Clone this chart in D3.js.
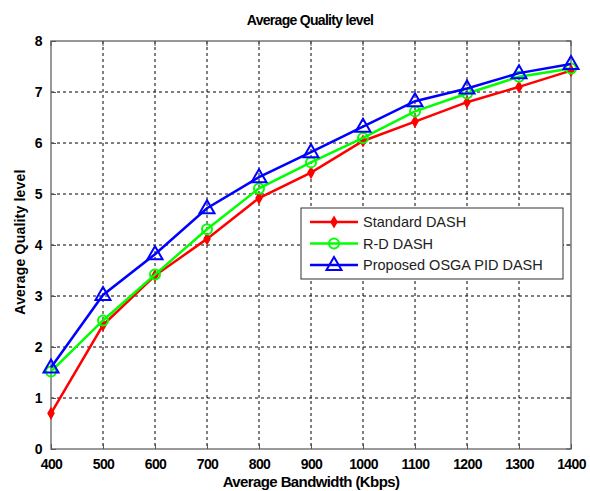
<!DOCTYPE html>
<html>
<head>
    <meta charset="UTF-8">
    <title>Average Quality level</title>
    <script src="https://d3js.org/d3.v7.min.js"></script>
    <style>
        body { margin: 0; background: #fff; }
        svg text { font-family: "Liberation Sans", Arial, sans-serif; }
    </style>
</head>
<body>
    <div id="chart"></div>
    <script>
        // data
        var bandwidth = [400, 500, 600, 700, 800, 900, 1000, 1100, 1200, 1300, 1400];
        var standardDash = [0.7, 2.43, 3.4, 4.12, 4.92, 5.42, 6.04, 6.42, 6.8, 7.1, 7.42];
        var rdDash = [1.52, 2.52, 3.42, 4.31, 5.11, 5.62, 6.1, 6.62, 6.97, 7.3, 7.46];
        var osgaDash = [1.6, 3.02, 3.82, 4.72, 5.33, 5.82, 6.32, 6.82, 7.07, 7.37, 7.55];
        var seriesNames = ["Standard DASH", "R-D DASH", "Proposed OSGA PID DASH"];
        var seriesColors = ["#ff0000", "#00ff00", "#0000ff"];
        var xTicks = [400, 500, 600, 700, 800, 900, 1000, 1100, 1200, 1300, 1400];
        var yTicks = [0, 1, 2, 3, 4, 5, 6, 7, 8];

        var W = 590, H = 491;
        var margin = { top: 41, right: 19, bottom: 42, left: 51 };
        var width = W - margin.left - margin.right,
            height = H - margin.top - margin.bottom;

        var svg = d3.select("#chart").append("svg")
            .attr("width", W).attr("height", H);
        var g = svg.append("g")
            .attr("transform", "translate(" + margin.left + "," + margin.top + ")");

        var x = d3.scaleLinear().domain([400, 1400]).range([0, width]);
        var y = d3.scaleLinear().domain([0, 8]).range([height, 0]);

        // grid
        g.append("g").selectAll("line").data(xTicks.slice(1, -1)).enter().append("line")
            .attr("x1", function (d) { return x(d) }).attr("x2", function (d) { return x(d) })
            .attr("y1", 0).attr("y2", height)
            .attr("stroke", "#000").attr("stroke-width", 1).attr("stroke-dasharray", "3,3");
        g.append("g").selectAll("line").data(yTicks.slice(1, -1)).enter().append("line")
            .attr("y1", function (d) { return y(d) }).attr("y2", function (d) { return y(d) })
            .attr("x1", 0).attr("x2", width)
            .attr("stroke", "#000").attr("stroke-width", 1).attr("stroke-dasharray", "3,3");

        // frame
        g.append("rect").attr("width", width).attr("height", height)
            .attr("fill", "none").attr("stroke", "#555").attr("stroke-width", 1.2);

        // axes, ticks pointing inward
        var xAxis = g.append("g").attr("transform", "translate(0," + height + ")")
            .call(d3.axisBottom(x).tickValues(xTicks).tickFormat(d3.format("d")).tickSize(-5).tickPadding(10));
        var yAxis = g.append("g")
            .call(d3.axisLeft(y).tickValues(yTicks).tickSize(-5).tickPadding(9));
        [xAxis, yAxis].forEach(function (a) {
            a.select(".domain").remove();
            a.selectAll(".tick line").attr("stroke", "#555");
            a.selectAll("text").attr("fill", "#000")
                .style("font-size", "14px").style("font-weight", "bold")
                .style("letter-spacing", "-0.6px");
        });
        // top and right ticks
        g.append("g").selectAll("line").data(xTicks).enter().append("line")
            .attr("x1", function (d) { return x(d) }).attr("x2", function (d) { return x(d) })
            .attr("y1", 0).attr("y2", 5).attr("stroke", "#555");
        g.append("g").selectAll("line").data(yTicks).enter().append("line")
            .attr("y1", function (d) { return y(d) }).attr("y2", function (d) { return y(d) })
            .attr("x1", width).attr("x2", width - 5).attr("stroke", "#555");

        // series
        var allSeries = [standardDash, rdDash, osgaDash];
        var line = d3.line()
            .x(function (d, i) { return x(bandwidth[i]) })
            .y(function (d) { return y(d) });

        function drawMarker(sel, k, cx, cy) {
            var c = seriesColors[k];
            if (k === 0) {
                sel.append("path")
                    .attr("d", d3.symbol().type(d3.symbolDiamond).size(30)())
                    .attr("transform", "translate(" + cx + "," + cy + ")")
                    .attr("fill", c).attr("stroke", c).attr("stroke-width", 1.5);
            } else if (k === 1) {
                sel.append("circle").attr("cx", cx).attr("cy", cy).attr("r", 5)
                    .attr("fill", "none").attr("stroke", c).attr("stroke-width", 2);
            } else {
                sel.append("path")
                    .attr("d", "M0,-8L7.5,5L-7.5,5Z")
                    .attr("transform", "translate(" + cx + "," + cy + ")")
                    .attr("fill", "none").attr("stroke", c).attr("stroke-width", 2);
            }
        }

        allSeries.forEach(function (vals, k) {
            g.append("path").datum(vals)
                .attr("d", line)
                .attr("fill", "none")
                .attr("stroke", seriesColors[k])
                .attr("stroke-width", 2.5);
            var mg = g.append("g");
            vals.forEach(function (v, i) { drawMarker(mg, k, x(bandwidth[i]), y(v)); });
        });

        // title and axis labels
        svg.append("text").attr("x", 310).attr("y", 25)
            .attr("text-anchor", "middle")
            .style("font-size", "14px").style("font-weight", "bold").style("letter-spacing", "-0.7px")
            .text("Average Quality level");
        svg.append("text").attr("x", 311).attr("y", 487)
            .attr("text-anchor", "middle")
            .style("font-size", "15px").style("font-weight", "bold").style("letter-spacing", "-0.6px")
            .text("Average Bandwidth (Kbps)");
        svg.append("text")
            .attr("transform", "translate(25,242) rotate(-90)")
            .attr("text-anchor", "middle")
            .style("font-size", "14px").style("font-weight", "bold").style("letter-spacing", "0.2px")
            .text("Average Quality level");

        // legend
        var lx = 301 - margin.left, ly = 208 - margin.top;
        var legend = g.append("g").attr("transform", "translate(" + lx + "," + ly + ")");
        legend.append("rect").attr("width", 262).attr("height", 71)
            .attr("fill", "#fff").attr("stroke", "#333").attr("stroke-width", 1);
        seriesNames.forEach(function (name, k) {
            var yy = 14 + k * 21.5;
            legend.append("line").attr("x1", 9).attr("x2", 57).attr("y1", yy).attr("y2", yy)
                .attr("stroke", seriesColors[k]).attr("stroke-width", 2.5);
            drawMarker(legend, k, 33, yy);
            legend.append("text").attr("x", 62).attr("y", yy + 5)
                .style("font-size", "14.5px").attr("fill", "#222")
                .text(name);
        });
    </script>
</body>
</html>
